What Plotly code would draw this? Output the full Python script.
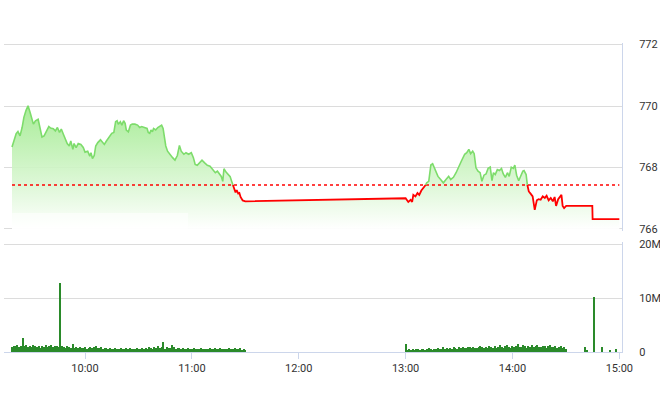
import numpy as np
import pandas as pd
import plotly.graph_objects as go

DAY = "2020-06-15"

# ---- price (index) data: time, value ----
price_times = [
    "09:19:00", "09:20:00", "09:21:20", "09:22:20", "09:23:30", "09:24:40", "09:25:40", "09:26:50",
    "09:28:00", "09:29:10", "09:30:10", "09:31:00", "09:32:10", "09:33:40", "09:34:40", "09:35:50",
    "09:37:00", "09:38:30", "09:39:40", "09:40:40", "09:42:10", "09:43:20", "09:44:30", "09:45:40",
    "09:46:40", "09:47:50", "09:48:50", "09:50:00", "09:51:10", "09:52:00", "09:53:10", "09:53:50",
    "09:55:00", "09:56:10", "09:57:40", "09:59:00", "10:00:00", "10:01:30", "10:02:40", "10:03:20",
    "10:04:10", "10:05:10", "10:06:00", "10:07:10", "10:08:40", "10:09:40", "10:10:50", "10:12:00",
    "10:13:10", "10:14:10", "10:15:00", "10:16:10", "10:17:10", "10:18:00", "10:18:40", "10:19:50",
    "10:20:40", "10:21:40", "10:22:30", "10:23:10", "10:24:20", "10:25:30", "10:26:30", "10:28:00",
    "10:29:30", "10:30:40", "10:31:50", "10:33:20", "10:34:50", "10:35:30", "10:36:20", "10:37:00",
    "10:37:50", "10:38:30", "10:39:40", "10:40:50", "10:41:50", "10:43:00", "10:43:50", "10:44:30",
    "10:45:20", "10:46:20", "10:47:30", "10:49:10", "10:50:30", "10:51:50", "10:53:00", "10:54:00",
    "10:55:30", "10:56:40", "10:58:10", "10:59:40", "11:00:50", "11:01:50", "11:03:00", "11:04:10",
    "11:05:40", "11:07:10", "11:08:40", "11:10:10", "11:12:00", "11:13:10", "11:14:20", "11:15:30",
    "11:16:30", "11:17:20", "11:18:00", "11:19:10", "11:20:20", "11:21:30", "11:22:10", "11:23:00",
    "11:23:40", "11:24:30", "11:25:10", "11:26:00", "11:26:40", "11:27:20", "11:28:30", "11:29:20",
    "11:30:00",
    "13:00:00", "13:01:30", "13:02:50", "13:03:40", "13:04:20", "13:05:30", "13:06:40", "13:07:40",
    "13:08:50", "13:10:00", "13:11:10", "13:11:50", "13:13:00", "13:14:10", "13:15:10", "13:16:00",
    "13:17:10", "13:18:10", "13:19:40", "13:21:10", "13:22:40", "13:24:10", "13:25:20", "13:26:50",
    "13:28:20", "13:29:50", "13:31:20", "13:33:10", "13:34:20", "13:35:30", "13:36:30", "13:37:40",
    "13:38:30", "13:39:30", "13:40:40", "13:41:50", "13:42:50", "13:44:00", "13:45:10", "13:46:20",
    "13:47:30", "13:48:30", "13:49:20", "13:50:20", "13:51:30", "13:52:40", "13:53:50", "13:54:50",
    "13:56:00", "13:57:10", "13:58:10", "13:59:20", "14:00:30", "14:01:20", "14:02:20", "14:03:30",
    "14:04:40", "14:05:50", "14:06:30", "14:07:40", "14:08:20", "14:09:10", "14:10:10", "14:11:20",
    "14:12:30", "14:13:40", "14:14:40", "14:15:50", "14:17:00", "14:18:10", "14:19:10", "14:20:20",
    "14:21:30", "14:22:40", "14:23:40", "14:24:30", "14:25:40", "14:26:40", "14:27:30", "14:28:10",
    "14:29:00", "14:30:10", "14:44:50", "14:45:00", "15:00:00",
]
price_values = [
    768.67, 768.86, 769.10, 769.17, 769.03, 769.30, 769.63, 769.85,
    770.01, 769.79, 769.57, 769.41, 769.52, 769.57, 769.30, 768.99,
    769.03, 769.19, 769.33, 769.28, 769.26, 769.19, 769.30, 769.14,
    769.25, 769.08, 768.92, 768.78, 768.70, 768.86, 768.59, 768.78,
    768.65, 768.78, 768.75, 768.65, 768.50, 768.53, 768.37, 768.48,
    768.29, 768.39, 768.70, 768.81, 768.90, 768.83, 768.75, 768.86,
    768.97, 769.03, 769.11, 769.14, 769.49, 769.52, 769.41, 769.49,
    769.38, 769.52, 769.44, 769.22, 769.16, 769.38, 769.41, 769.41,
    769.38, 769.30, 769.33, 769.30, 769.27, 769.14, 769.11, 769.22,
    769.16, 769.27, 769.22, 769.30, 769.35, 769.38, 769.27, 768.94,
    768.70, 768.53, 768.43, 768.32, 768.24, 768.39, 768.72, 768.53,
    768.43, 768.48, 768.43, 768.48, 768.32, 768.10, 768.07, 768.15,
    768.24, 768.15, 768.07, 768.04, 767.91, 767.83, 767.88, 767.80,
    767.71, 767.55, 767.96, 767.85, 767.77, 767.70, 767.58, 767.44,
    767.30, 767.19, 767.26, 767.15, 767.17, 767.04, 766.93, 766.90,
    766.90,
    767.00, 766.88, 766.95, 766.88, 767.11, 767.06, 767.17, 767.11,
    767.25, 767.33, 767.42, 767.50, 767.55, 768.08, 768.12, 767.99,
    767.83, 767.71, 767.61, 767.50, 767.61, 767.71, 767.61, 767.68,
    767.83, 768.04, 768.21, 768.43, 768.48, 768.59, 768.45, 768.53,
    768.45, 767.99, 767.88, 767.83, 767.55, 767.75, 767.79, 767.97,
    768.01, 767.57, 767.83, 767.77, 767.93, 767.90, 767.97, 767.79,
    767.68, 767.83, 767.71, 768.01, 767.97, 768.08, 767.75, 767.57,
    767.75, 767.88, 767.90, 767.77, 767.44, 767.22, 767.15, 767.06,
    766.62, 766.93, 766.97, 766.95, 767.06, 767.01, 767.08, 766.93,
    767.01, 766.90, 767.04, 766.75, 766.97, 767.06, 767.11, 766.75,
    766.68, 766.75, 766.75, 766.32, 766.32,
]
REFERENCE = 767.43

# ---- volume (millions), one bar per minute ----
vol_morning_start = "09:19"
vol_morning = [
    0.9, 1.1, 1.0, 1.2, 0.8, 1.0, 2.5, 1.0, 1.3, 0.9,
    1.1, 0.8, 1.2, 1.0, 0.9, 1.1, 0.7, 1.0, 0.9, 1.2,
    0.8, 1.0, 1.3, 0.9, 1.1, 1.0, 0.8, 12.7, 1.0, 0.9,
    0.7, 1.0, 0.8, 0.6, 1.4, 0.7, 0.8, 0.6, 0.9, 0.7,
    0.6, 0.8, 0.5, 0.7, 0.9, 0.6, 0.8, 1.0, 0.7, 0.6,
    0.8, 0.5, 0.6, 0.7, 0.5, 0.6, 0.4, 0.5, 0.6, 0.5,
    0.4, 0.6, 0.5, 0.5, 0.7, 0.4, 0.6, 0.5, 0.5, 0.4,
    0.6, 0.5, 0.4, 0.7, 0.5, 0.6, 0.5, 0.8, 0.6, 0.5,
    0.9, 0.6, 1.0, 0.7, 0.8, 1.7, 0.5, 0.8, 0.6, 0.7,
    1.3, 0.9, 0.5, 0.6, 0.7, 0.5, 0.6, 0.4, 0.5, 0.6,
    0.5, 0.4, 0.6, 0.5, 0.4, 0.5, 0.6, 0.4, 0.5, 0.4,
    0.5, 0.6, 0.4, 0.5, 0.7, 0.4, 0.5, 0.6, 0.4, 0.5,
    0.4, 0.5, 0.6, 0.4, 0.5, 0.7, 0.4, 0.5, 0.6, 0.3,
    0.4, 0.2,
]
vol_afternoon_start = "13:00"
vol_afternoon = [
    1.5, 0.3, 0.4, 0.3, 0.4, 0.3, 0.5, 0.4, 0.3, 0.4,
    0.5, 0.3, 0.4, 0.6, 0.4, 0.3, 0.5, 0.4, 0.7, 0.5,
    0.4, 0.8, 0.5, 0.6, 0.4, 0.7, 0.5, 0.9, 0.6, 0.5,
    0.8, 0.6, 0.9, 0.7, 0.6, 0.9, 0.8, 0.7, 0.9, 0.6,
    0.7, 0.9, 1.0, 0.8, 0.6, 0.9, 0.7, 1.1, 0.8, 0.6,
    1.0, 0.7, 0.9, 1.2, 0.8, 0.7, 1.0, 1.3, 0.9, 0.7,
    1.1, 0.8, 1.0, 1.4, 0.9, 0.8, 1.2, 1.0, 0.7, 1.1,
    0.9, 1.3, 0.8, 1.0, 1.2, 0.9, 0.8, 1.1, 1.0, 0.7,
    1.0, 1.2, 0.8, 0.9, 1.1, 0.7, 0.9, 1.0, 0.6, 0.8,
    0.4,
]
vol_late_times = ["14:41", "14:42", "14:46", "14:50", "14:55", "14:58"]
vol_late = [0.9, 0.3, 10.1, 0.8, 0.3, 0.4]

price_ticks = [766, 768, 770, 772]
vol_ticks = [0, 10, 20]
vol_tick_labels = ["0", "10M", "20M"]
time_ticks = ["10:00", "11:00", "12:00", "13:00", "14:00", "15:00"]
x_range = ["09:14:30", "15:01:30"]

# ---- build ----
def ts(s):
    return pd.Timestamp(f"{DAY} {s}")

t = [ts(s) for s in price_times]
v = price_values

# split the line into above (green) / below (red) the reference
segs = {"g": ([], []), "r": ([], [])}
state = {"cur": None}

def push(color, x0, y0, x1, y1):
    xs, ys = segs[color]
    if state["cur"] != color:
        if xs:
            xs.append(None)
            ys.append(None)
        xs.append(x0)
        ys.append(y0)
    xs.append(x1)
    ys.append(y1)
    state["cur"] = color

for i in range(len(t) - 1):
    x0, y0, x1, y1 = t[i], v[i], t[i + 1], v[i + 1]
    a, b = y0 - REFERENCE, y1 - REFERENCE
    if a * b < 0:
        frac = (REFERENCE - y0) / (y1 - y0)
        xc = x0 + (x1 - x0) * frac
        push("g" if a > 0 else "r", x0, y0, xc, REFERENCE)
        push("g" if b > 0 else "r", xc, REFERENCE, x1, y1)
    else:
        c = "g" if (a > 0 or (a == 0 and b >= 0)) and b >= 0 else "r"
        push(c, x0, y0, x1, y1)

vol_t = (
    list(pd.date_range(ts(vol_morning_start), periods=len(vol_morning), freq="1min"))
    + list(pd.date_range(ts(vol_afternoon_start), periods=len(vol_afternoon), freq="1min"))
    + [ts(s) for s in vol_late_times]
)
vol_v = vol_morning + vol_afternoon + vol_late

fig = go.Figure()

PRICE_FLOOR = price_ticks[0]
fig.add_trace(go.Scatter(
    x=t, y=[PRICE_FLOOR] * len(t), mode="lines", line=dict(width=0),
    hoverinfo="skip", xaxis="x", yaxis="y", showlegend=False,
))
fig.add_trace(go.Scatter(
    x=t, y=v, mode="lines", line=dict(width=0), fill="tonexty",
    fillgradient=dict(type="vertical", start=766, stop=770.2,
                      colorscale=[[0, "rgba(255,255,255,0.95)"],
                                  [1, "rgba(150,232,130,0.85)"]]),
    hoverinfo="skip", xaxis="x", yaxis="y", showlegend=False,
))
fig.add_trace(go.Scatter(
    x=[t[0], t[-1]], y=[REFERENCE, REFERENCE], mode="lines",
    line=dict(color="#ff0000", width=1.5, dash="dot"),
    hoverinfo="skip", xaxis="x", yaxis="y", showlegend=False,
))
fig.add_trace(go.Scatter(
    x=segs["g"][0], y=segs["g"][1], mode="lines",
    line=dict(color="#7ddc6b", width=1.6), connectgaps=False,
    xaxis="x", yaxis="y", showlegend=False,
))
fig.add_trace(go.Scatter(
    x=segs["r"][0], y=segs["r"][1], mode="lines",
    line=dict(color="#ff0000", width=1.8), connectgaps=False,
    xaxis="x", yaxis="y", showlegend=False,
))
fig.add_trace(go.Bar(
    x=vol_t, y=vol_v, width=34000, marker=dict(color="#2a8a2a", line=dict(width=0)),
    xaxis="x2", yaxis="y2", showlegend=False,
))

# subtle pale overlay seen at the lower-left of the price panel
fig.add_shape(type="rect", xref="x domain", yref="y domain",
              x0=0.013, x1=0.298, y0=0.008, y1=0.093,
              fillcolor="rgba(255,255,255,0.55)", line=dict(width=0), layer="above")

font = dict(family="Roboto, Arial, sans-serif", size=11, color="#333333")
xr = [ts(s) for s in x_range]
fig.update_layout(
    width=660, height=412,
    margin=dict(l=4, r=38, t=43, b=60),
    paper_bgcolor="white", plot_bgcolor="white",
    font=font, bargap=0,
    xaxis=dict(domain=[0, 1], anchor="y", range=xr, showticklabels=False,
               showgrid=False, zeroline=False, showline=False, ticks=""),
    yaxis=dict(domain=[0.3932, 1], anchor="x", range=[765.95, 772.05], side="right",
               tickvals=price_ticks, ticktext=[str(p) for p in price_ticks],
               showgrid=True, gridcolor="#dcdcdc", gridwidth=1, zeroline=False,
               showline=True, linecolor="#ccd6eb", linewidth=1, ticks="",
               ticklabelstandoff=14, tickfont=font, automargin=False),
    xaxis2=dict(domain=[0, 1], anchor="y2", range=xr, matches="x",
                tickvals=[ts(s) for s in time_ticks], ticktext=time_ticks,
                showgrid=False, zeroline=False, showline=True, linecolor="#ccd6eb",
                ticks="outside", ticklen=6, tickcolor="#ccd6eb", tickfont=font,
                automargin=False),
    yaxis2=dict(domain=[0, 0.3547], anchor="x2", range=[0, 20.3], side="right",
                tickvals=vol_ticks, ticktext=vol_tick_labels,
                showgrid=True, gridcolor="#dcdcdc", gridwidth=1, zeroline=False,
                showline=True, linecolor="#ccd6eb", linewidth=1, ticks="",
                ticklabelstandoff=14, tickfont=font, automargin=False),
)

fig.write_html("out.html", config={"displayModeBar": False},
               post_script="document.body.style.margin='0';")
